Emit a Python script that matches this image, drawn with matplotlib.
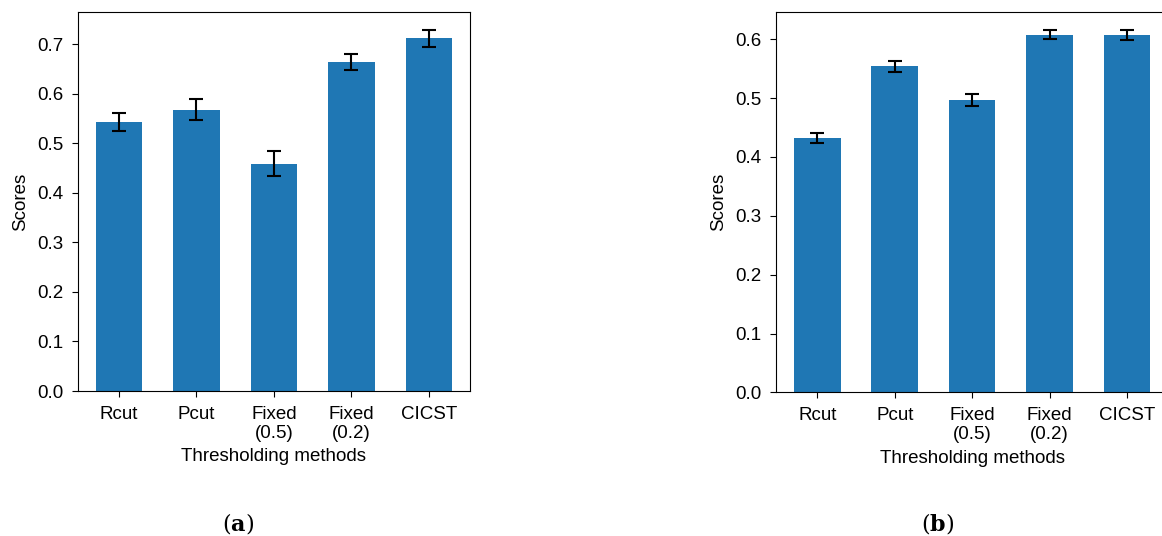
import numpy as np
import matplotlib.pyplot as plt

plt.rcParams['font.family'] = ['Liberation Sans', 'DejaVu Sans']
plt.rcParams['mathtext.fontset'] = 'dejavuserif'

methods = ['Rcut', 'Pcut', 'Fixed\n(0.5)', 'Fixed\n(0.2)', 'CICST']

# panel (a)
scores_a = [0.544, 0.568, 0.459, 0.665, 0.712]
err_a = [0.018, 0.021, 0.025, 0.016, 0.017]

# panel (b)
scores_b = [0.432, 0.554, 0.497, 0.608, 0.607]
err_b = [0.009, 0.0095, 0.010, 0.007, 0.008]

fig = plt.figure(figsize=(11.62, 5.36), dpi=100)
ax_a = fig.add_axes([0.0671, 0.2705, 0.3373, 0.7071])
ax_b = fig.add_axes([0.668, 0.268, 0.3373, 0.709])


def draw_panel(ax, scores, err):
    x = np.arange(len(methods))
    ax.bar(x, scores, width=0.6, color='#1f77b4', yerr=err, capsize=5,
           error_kw={'elinewidth': 1.5, 'capthick': 1.5, 'ecolor': 'black'})
    ax.set_xticks(x)
    ax.set_xticklabels(methods, fontsize=13.5, linespacing=1.15)
    ax.tick_params(axis='y', labelsize=13.5, length=4.5, pad=6)
    ax.tick_params(axis='x', length=4.5, pad=6)
    ax.set_ylabel('Scores', fontsize=13.5, labelpad=6)
    ax.set_xlabel('Thresholding methods', fontsize=13.5, labelpad=5)


draw_panel(ax_a, scores_a, err_a)
draw_panel(ax_b, scores_b, err_b)

fig.text(238 / 1162, 1 - 523 / 536, r'($\mathbf{a}$)', family='DejaVu Serif',
         fontsize=16, ha='center', va='center')
fig.text(938 / 1162, 1 - 523 / 536, r'($\mathbf{b}$)', family='DejaVu Serif',
         fontsize=16, ha='center', va='center')

fig.savefig('out.png', dpi=100)
